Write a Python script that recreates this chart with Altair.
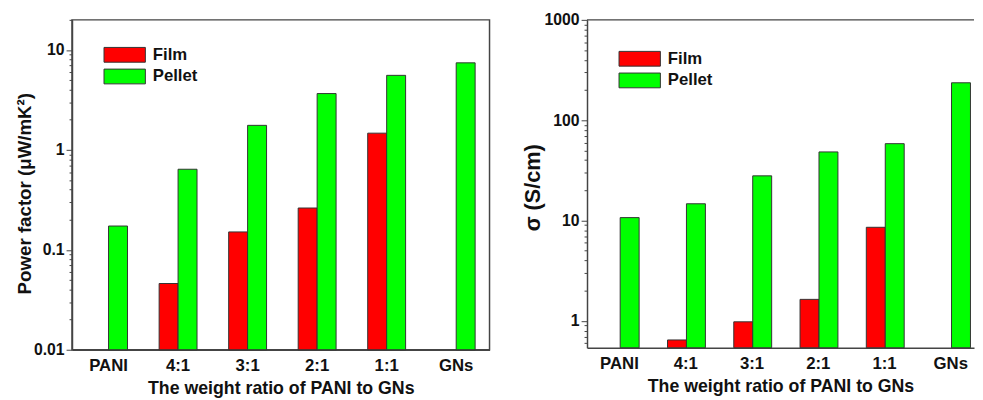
import altair as alt
import pandas as pd

categories = ["PANI", "4:1", "3:1", "2:1", "1:1", "GNs"]
series = ["Film", "Pellet"]
colors = ["#FF0000", "#00FF00"]

pf_film = [None, 0.046, 0.151, 0.262, 1.47, None]
pf_pellet = [0.173, 0.64, 1.76, 3.66, 5.57, 7.43]
sigma_film = [None, 0.646, 0.98, 1.64, 8.57, None]
sigma_pellet = [10.7, 14.7, 27.9, 48.3, 58.4, 236]

pf_major = [0.01, 0.1, 1, 10]
sigma_major = [1, 10, 100, 1000]
pf_domain = [0.01, 20]
sigma_domain = [0.54, 1000]

x_title = "The weight ratio of PANI to GNs"
pf_title = "Power factor (\u03bcW/mK\u00b2)"
sigma_title = "\u03c3 (S/cm)"

FONT = "Liberation Sans"


def long_df(film, pellet):
    rows = []
    for c, f, p in zip(categories, film, pellet):
        if f is not None:
            rows.append({"cat": c, "series": "Film", "value": f})
        if p is not None:
            rows.append({"cat": c, "series": "Pellet", "value": p})
    return pd.DataFrame(rows)


def tick_values(major, domain):
    vals = []
    for m in major + [major[0] / 10]:
        for k in range(1, 10):
            v = round(m * k, 6)
            if domain[0] - 1e-9 <= v <= domain[1] + 1e-9:
                vals.append(v)
    return sorted(set(vals))


is_major = "abs(log(datum.value)/LN10 - round(log(datum.value)/LN10)) < 0.001"


def panel(df, major, domain, ytitle, ytitle_size, label_size, title_x, title_y,
          width, height, pad_inner, pad_outer, align, legend_x, legend_y, framed):
    x = alt.X(
        "cat:N",
        sort=categories,
        scale=alt.Scale(paddingInner=pad_inner, paddingOuter=pad_outer, align=align),
        axis=alt.Axis(
            title=x_title, labelAngle=0, ticks=False, labelPadding=8,
            labelFont=FONT, labelFontSize=17, labelFontWeight="bold", labelColor="#111",
            titleFont=FONT, titleFontSize=18, titleFontWeight="bold", titleColor="#111",
            titlePadding=6, domainColor="#444", domainWidth=1.5,
        ),
    )
    y = alt.Y(
        "value:Q",
        scale=alt.Scale(type="log", domain=domain),
        axis=alt.Axis(
            values=tick_values(major, domain),
            labelExpr=f"({is_major}) ? format(datum.value, '~g') : ''",
            labelOverlap=False,
            tickSize={"condition": {"test": is_major, "value": 6}, "value": 3},
            tickColor="#444", domainColor="#444", domainWidth=1.5,
            grid=False, title=ytitle, labelPadding=2,
            labelFont=FONT, labelFontSize=label_size, labelFontWeight="bold", labelColor="#111",
            titleFont=FONT, titleFontSize=ytitle_size, titleFontWeight="bold", titleColor="#111",
            titleAngle=270, titleBaseline="bottom", titleAlign="center",
            titleX=title_x, titleY=title_y,
        ),
    )
    bars = alt.Chart(df).mark_bar(stroke="#333", strokeWidth=1).encode(
        x=x,
        xOffset=alt.XOffset("series:N", sort=series, scale=alt.Scale(domain=series, paddingInner=0, paddingOuter=0)),
        y=y,
        y2=alt.datum(domain[0]),
        color=alt.Color(
            "series:N",
            scale=alt.Scale(domain=series, range=colors),
            legend=alt.Legend(
                title=None, orient="none", legendX=legend_x, legendY=legend_y,
                symbolType="M-2.8,-1H2.8V1H-2.8Z", symbolSize=225,
                symbolStrokeColor="#333", symbolStrokeWidth=1, symbolOpacity=1,
                labelOffset=20, rowPadding=3, padding=0,
                labelFont=FONT, labelFontSize=17, labelFontWeight="bold", labelColor="#111",
            ),
        ),
    )
    layers = [bars]
    if not framed:
        top = alt.Chart(pd.DataFrame({"k": [0]})).mark_rule(color="#444", strokeWidth=1.5).encode(
            x=alt.value(0), x2=alt.value(width), y=alt.value(0)
        )
        layers.append(top)
    ch = alt.layer(*layers).properties(width=width, height=height)
    if framed:
        ch = ch.properties(view=alt.ViewBackground(stroke="#444", strokeWidth=1.5))
    else:
        ch = ch.properties(view=alt.ViewBackground(stroke=None))
    return ch


left = panel(long_df(pf_film, pf_pellet), pf_major, pf_domain, pf_title, 19, 16, -38, 176,
             424, 335, 0.455, 0.23, 0.55, 45, 27, True)
right = panel(long_df(sigma_film, sigma_pellet), sigma_major, sigma_domain, sigma_title, 22, 16, -43, 170,
              393, 333, 0.45, 0.145, 0.74, 45, 31, False)

chart = alt.hconcat(left, right, spacing=99, bounds="flush").properties(
    padding={"left": 7, "top": 0, "right": 0, "bottom": 0}
).resolve_scale(color="independent").configure_view(stroke=None)

chart.save("out.html", embed_options={"renderer": "svg", "actions": False})
